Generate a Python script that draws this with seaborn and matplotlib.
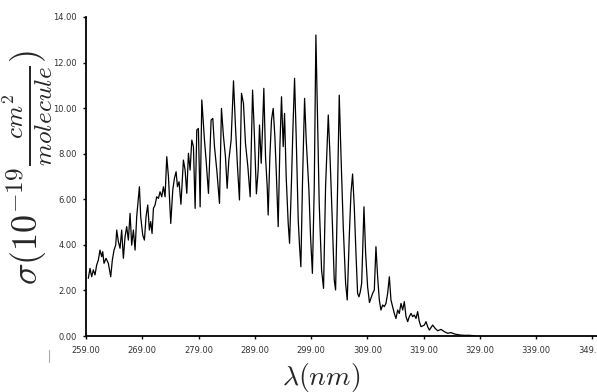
import matplotlib
matplotlib.use("Agg")
import matplotlib.pyplot as plt
import pandas as pd
import seaborn as sns
from matplotlib.lines import Line2D

wavelength_nm = [
    259.41, 259.71, 260.01, 260.30, 260.60, 260.90, 261.19, 261.49, 261.79, 261.97,
    262.20, 262.56, 262.97, 263.39, 263.68, 263.98, 264.28, 264.46, 264.75, 265.05,
    265.34, 265.64, 265.94, 266.23, 266.53, 266.83, 267.12, 267.42, 267.72, 268.01,
    268.49, 268.72, 269.08, 269.38, 269.67, 269.97, 270.26, 270.50, 270.74, 270.98,
    271.27, 271.57, 271.87, 272.16, 272.46, 272.76, 273.05, 273.35, 273.65, 274.06,
    274.42, 274.71, 275.01, 275.25, 275.54, 275.87, 276.31, 276.61, 276.91, 277.20,
    277.50, 277.80, 278.09, 278.39, 278.69, 278.97, 279.28, 279.58, 280.05, 280.34,
    280.76, 281.23, 281.53, 281.83, 282.24, 282.72, 283.07, 283.43, 283.78, 284.08,
    284.38, 284.79, 285.21, 285.56, 285.92, 286.27, 286.63, 286.98, 287.34, 287.76,
    288.17, 288.60, 288.88, 289.28, 289.59, 289.83, 290.13, 290.36, 290.60, 290.90,
    291.20, 291.37, 291.67, 291.96, 292.26, 292.56, 292.80, 293.15, 293.45, 293.74,
    294.04, 294.28, 294.57, 294.93, 295.17, 295.52, 295.76, 296.06, 296.35, 296.71,
    296.95, 297.18, 297.48, 297.84, 298.13, 298.61, 298.90, 299.23, 299.56, 299.85,
    300.15, 300.44, 300.86, 301.21, 301.57, 302.05, 302.34, 302.76, 303.11, 303.35,
    303.71, 304.00, 304.30, 304.71, 305.13, 305.42, 305.78, 306.08, 306.37, 306.67,
    306.97, 307.26, 307.50, 307.74, 307.98, 308.15, 308.39, 308.69, 309.04, 309.37,
    309.63, 309.93, 310.23, 310.52, 310.82, 311.12, 311.41, 311.71, 312.01, 312.30,
    312.60, 312.90, 313.19, 313.49, 313.78, 314.08, 314.38, 314.67, 314.97, 315.27,
    315.56, 315.86, 316.16, 316.45, 316.75, 317.05, 317.34, 317.64, 317.93, 318.23,
    318.53, 319.12, 319.42, 319.71, 320.01, 320.60, 321.02, 321.49, 322.09, 322.68,
    323.27, 323.86, 324.46, 325.05, 325.64, 326.24, 327.13, 328.00,
]
cross_section = [
    2.53, 2.97, 2.60, 2.90, 2.68, 3.12, 3.33, 3.77, 3.48, 3.70,
    3.19, 3.41, 3.19, 2.60, 3.33, 3.77, 3.99, 4.65, 4.14, 3.85,
    4.65, 3.41, 4.36, 4.80, 4.21, 5.38, 3.99, 4.65, 3.77, 5.24,
    6.55, 5.24, 4.43, 4.21, 5.24, 5.75, 4.65, 5.02, 4.50, 5.60,
    5.75, 6.11, 6.04, 6.33, 6.11, 6.55, 6.11, 7.87, 6.99, 4.94,
    6.41, 6.92, 7.21, 6.55, 6.77, 5.78, 7.72, 7.28, 6.26, 8.02,
    7.28, 8.60, 8.31, 5.60, 9.04, 9.11, 5.67, 10.36, 8.60, 7.72,
    6.26, 9.48, 9.55, 8.31, 7.28, 5.82, 9.99, 8.75, 7.87, 6.48,
    7.72, 8.60, 11.20, 9.19, 7.43, 5.97, 10.65, 10.21, 8.45, 7.43,
    6.11, 10.79, 9.10, 6.24, 7.28, 9.26, 7.58, 9.04, 10.87, 7.87,
    6.55, 5.31, 7.87, 9.48, 9.99, 8.75, 7.28, 4.80, 8.31, 10.50,
    8.31, 9.77, 6.99, 4.94, 4.07, 6.85, 9.04, 11.31, 8.75, 5.09,
    3.92, 3.04, 6.85, 10.43, 8.60, 6.41, 4.36, 2.75, 6.55, 13.21,
    9.48, 5.82, 2.90, 2.09, 6.55, 9.70, 8.01, 5.09, 2.46, 2.02,
    6.55, 10.57, 8.01, 4.80, 2.31, 1.58, 4.36, 6.26, 7.11, 5.67,
    3.63, 1.87, 1.72, 1.94, 2.31, 3.63, 5.67, 3.63, 2.16, 1.47,
    1.65, 1.87, 2.02, 3.92, 2.60, 1.58, 1.14, 1.36, 1.29, 1.43,
    1.87, 2.60, 1.58, 1.29, 0.99, 0.77, 1.14, 0.99, 1.43, 1.14,
    1.51, 0.85, 0.63, 0.85, 0.99, 0.85, 0.92, 0.77, 1.07, 0.63,
    0.41, 0.48, 0.63, 0.41, 0.26, 0.48, 0.34, 0.23, 0.29, 0.19,
    0.12, 0.15, 0.09, 0.06, 0.04, 0.03, 0.03, 0.01,
]
x_ticks = [259, 269, 279, 289, 299, 309, 319, 329, 339, 349]
y_ticks = [0, 2, 4, 6, 8, 10, 12, 14]
x_label = r"$\lambda(nm)$"
y_label = r"$\sigma(10^{-19}\frac{cm^2}{molecule})$"

sns.set_theme(style="ticks")
plt.rcParams["font.family"] = ["DejaVu Sans"]
plt.rcParams["mathtext.fontset"] = "cm"

W, H = 597, 392
fig = plt.figure(figsize=(W / 100, H / 100), dpi=100)
fig.patch.set_facecolor("white")
ax = fig.add_axes([86 / W, 56 / H, 511 / W, 319 / H])
ax.set_facecolor("white")

df = pd.DataFrame({"wavelength": wavelength_nm, "sigma": cross_section})
sns.lineplot(data=df, x="wavelength", y="sigma", ax=ax, color="black",
             linewidth=0.9, estimator=None, sort=False)

ax.set_xlim(259, 349.8)
ax.set_ylim(0, 14)
ax.set_xticks(x_ticks)
ax.set_xticklabels([f"{v:.2f}" for v in x_ticks])
ax.set_yticks(y_ticks)
ax.set_yticklabels([f"{v:.2f}" for v in y_ticks])
ax.tick_params(axis="both", direction="out", length=2.5, width=1.0,
               colors="black", labelsize=6, labelcolor="#333333")
ax.tick_params(axis="x", pad=4.5)
ax.tick_params(axis="y", pad=4)
for s in ["top", "right"]:
    ax.spines[s].set_visible(False)
for s in ["left", "bottom"]:
    ax.spines[s].set_linewidth(1.3)
    ax.spines[s].set_color("black")

ax.set_xlabel(x_label, fontsize=20)
ax.set_ylabel(y_label, fontsize=26)
ax.xaxis.label.set_verticalalignment("center")
ax.yaxis.label.set_verticalalignment("center")
ax.xaxis.set_label_coords((321 - 86) / 511, (336 - 377) / 319)
ax.yaxis.set_label_coords((27.5 - 86) / 511, (336 - 168) / 319)

fig.add_artist(Line2D([49 / W, 49 / W], [1 - 350 / H, 1 - 362 / H],
                      color="#aaaaaa", linewidth=0.8))

fig.savefig("out.png", dpi=100)
